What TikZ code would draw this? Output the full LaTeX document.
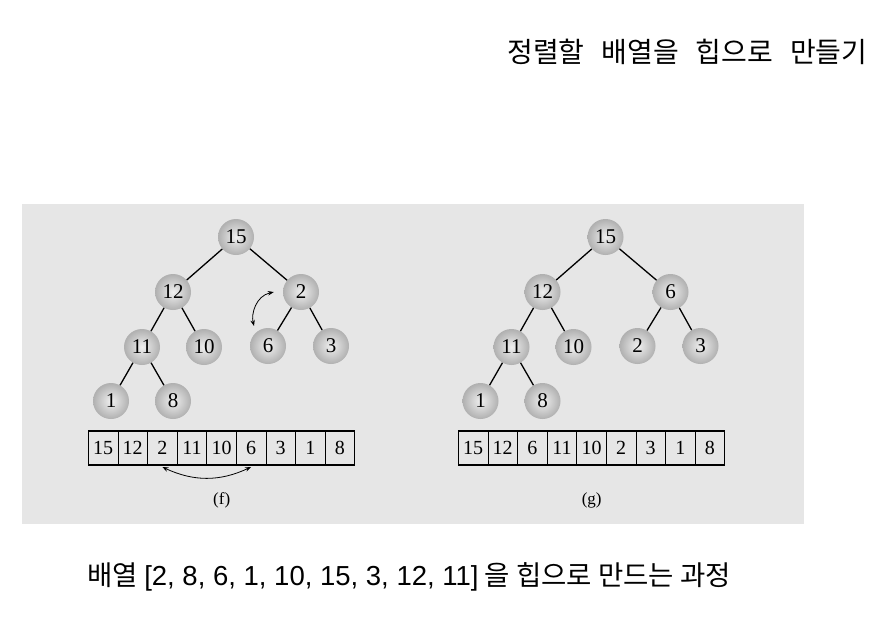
\documentclass[tikz,border=0pt]{standalone}
\usepackage{fontspec}
\setmainfont{Liberation Serif}
\newfontfamily\krfont{Noto Sans CJK KR}
\newfontfamily\latfont{Liberation Sans}
\usetikzlibrary{positioning,arrows.meta}
\definecolor{panelgray}{HTML}{E6E6E6}

\begin{document}
\begin{tikzpicture}[
  x=1pt, y=-1pt,
  on grid,
  heapnode/.style={circle, minimum size=36pt, inner sep=0, shading=radial, inner color=gray!12, outer color=gray!62, font=\fontsize{21}{21}\selectfont},
  cellstyle/.style={draw, line width=0.7pt, inner sep=0, outer sep=0, minimum width=29.6pt, minimum height=34pt, font=\fontsize{20}{20}\selectfont},
  edgestyle/.style={line width=1.3pt},
  swapstyle/.style={{Stealth[length=6pt,width=4.5pt]}-{Stealth[length=6pt,width=4.5pt]}, line width=0.8pt},
  capstyle/.style={font=\fontsize{17}{17}\selectfont}
]
  \useasboundingbox (0,0) rectangle (881,638);
  \fill[panelgray] (22,204) rectangle (804,524);

  \node[anchor=east, font=\krfont\fontsize{28}{28}\selectfont] (TITLE) at (871,52)
    {정렬할\hspace{17pt}배열을\hspace{17pt}힙으로\hspace{17pt}만들기};

  % (f)
  \node[heapnode] (F15) at (236,237) {15};
  \node[heapnode, below left=55pt and 63pt of F15] (F12) {12};
  \node[heapnode, below right=55pt and 65pt of F15] (F2) {2};
  \node[heapnode, below left=55pt and 31pt of F12] (F11) {11};
  \node[heapnode, below right=55pt and 31pt of F12] (F10) {10};
  \node[heapnode, below left=54pt and 33pt of F2] (F6) {6};
  \node[heapnode, below right=54pt and 30pt of F2] (F3) {3};
  \node[heapnode, below left=54pt and 31pt of F11] (F1) {1};
  \node[heapnode, below right=54pt and 31pt of F11] (F8) {8};

  \draw[edgestyle] (F15) -- (F12);
  \draw[edgestyle] (F15) -- (F2);
  \draw[edgestyle] (F12) -- (F11);
  \draw[edgestyle] (F12) -- (F10);
  \draw[edgestyle] (F2) -- (F6);
  \draw[edgestyle] (F2) -- (F3);
  \draw[edgestyle] (F11) -- (F1);
  \draw[edgestyle] (F11) -- (F8);

  \draw[swapstyle] ([xshift=-9pt]F2.west) .. controls +(-18pt,-4pt) and +(-3pt,12pt) .. ([shift={(-14pt,20pt)}]F6.center);

  \node[cellstyle] (FA1) at (103.1,448) {15};
  \node[cellstyle, right=29.6pt of FA1] (FA2) {12};
  \node[cellstyle, right=29.6pt of FA2] (FA3) {2};
  \node[cellstyle, right=29.6pt of FA3] (FA4) {11};
  \node[cellstyle, right=29.6pt of FA4] (FA5) {10};
  \node[cellstyle, right=29.6pt of FA5] (FA6) {6};
  \node[cellstyle, right=29.6pt of FA6] (FA7) {3};
  \node[cellstyle, right=29.6pt of FA7] (FA8) {1};
  \node[cellstyle, right=29.6pt of FA8] (FA9) {8};
  \draw[line width=1.3pt] (FA1.north west) rectangle (FA9.south east);

  \draw[swapstyle] ([yshift=-2pt]FA3.south) to[bend right=25] ([yshift=-2pt]FA6.south);

  \node[capstyle] (FCAP) at (221.7,500) {(f)};

  % (g)
  \node[heapnode] (G15) at (605.5,237) {15};
  \node[heapnode, below left=55pt and 63pt of G15] (G12) {12};
  \node[heapnode, below right=55pt and 65pt of G15] (G6) {6};
  \node[heapnode, below left=55pt and 31pt of G12] (G11) {11};
  \node[heapnode, below right=55pt and 31pt of G12] (G10) {10};
  \node[heapnode, below left=54pt and 33pt of G6] (G2) {2};
  \node[heapnode, below right=54pt and 30pt of G6] (G3) {3};
  \node[heapnode, below left=54pt and 31pt of G11] (G1) {1};
  \node[heapnode, below right=54pt and 31pt of G11] (G8) {8};

  \draw[edgestyle] (G15) -- (G12);
  \draw[edgestyle] (G15) -- (G6);
  \draw[edgestyle] (G12) -- (G11);
  \draw[edgestyle] (G12) -- (G10);
  \draw[edgestyle] (G6) -- (G2);
  \draw[edgestyle] (G6) -- (G3);
  \draw[edgestyle] (G11) -- (G1);
  \draw[edgestyle] (G11) -- (G8);

  \node[cellstyle] (GA1) at (473.1,448) {15};
  \node[cellstyle, right=29.6pt of GA1] (GA2) {12};
  \node[cellstyle, right=29.6pt of GA2] (GA3) {6};
  \node[cellstyle, right=29.6pt of GA3] (GA4) {11};
  \node[cellstyle, right=29.6pt of GA4] (GA5) {10};
  \node[cellstyle, right=29.6pt of GA5] (GA6) {2};
  \node[cellstyle, right=29.6pt of GA6] (GA7) {3};
  \node[cellstyle, right=29.6pt of GA7] (GA8) {1};
  \node[cellstyle, right=29.6pt of GA8] (GA9) {8};
  \draw[line width=1.3pt] (GA1.north west) rectangle (GA9.south east);

  \node[capstyle] (GCAP) at (591.7,500) {(g)};

  \node[anchor=west, font=\krfont\fontsize{27.5}{27.5}\selectfont] (CAPTION) at (84,577)
    {배열 {\latfont[2, 8, 6, 1, 10, 15, 3, 12, 11]} 을 힙으로 만드는 과정};
\end{tikzpicture}
\end{document}
